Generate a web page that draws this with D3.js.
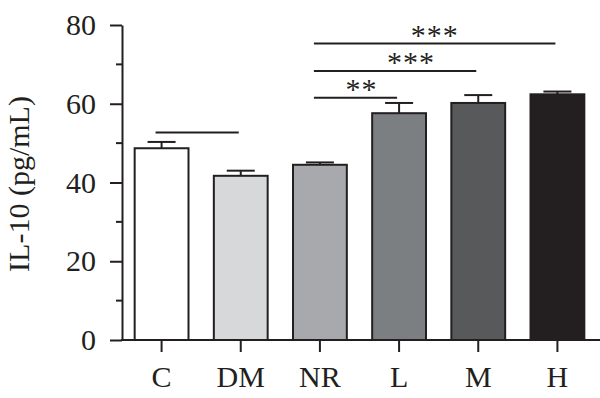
<!DOCTYPE html>
<html>
<head>
<meta charset="utf-8">
<script src="https://cdn.jsdelivr.net/npm/d3@7"></script>
<style>
  html, body { margin: 0; padding: 0; background: #fff; }
  svg { display: block; }
  text { font-family: "Liberation Serif", "Times New Roman", serif; fill: #231f20; }
</style>
</head>
<body>
<div id="chart"></div>
<script>
// data
const groups = ["C", "DM", "NR", "L", "M", "H"];
const means = [48.7, 41.7, 44.5, 57.6, 60.2, 62.4];
const errors = [1.6, 1.3, 0.6, 2.6, 2.0, 0.7];
const fills = ["#ffffff", "#d7d8da", "#a7a9ac", "#7b7f82", "#58595b", "#231f20"];
const yTicks = [0, 20, 40, 60, 80];
const yMinorTicks = [10, 30, 50, 70];
// significance brackets
const sigFrom = ["C", "NR", "NR", "NR"];
const sigTo = ["DM", "L", "M", "H"];
const sigLabel = ["", "**", "***", "***"];
const sigLevel = [52.7, 61.5, 68.3, 75.3];

const width = 600, height = 398;
const ink = "#231f20";

const svg = d3.select("#chart").append("svg")
  .attr("width", width)
  .attr("height", height);

const x = d3.scaleBand()
  .domain(groups)
  .range([122, 597])
  .paddingInner(0.32)
  .paddingOuter(0.16);

const y = d3.scaleLinear()
  .domain([0, 80])
  .range([340, 25]);

const data = groups.map((g, i) => ({ g, v: means[i], e: errors[i], fill: fills[i] }));

// bars
svg.append("g")
  .selectAll("rect")
  .data(data)
  .join("rect")
  .attr("x", d => x(d.g))
  .attr("y", d => y(d.v))
  .attr("width", x.bandwidth())
  .attr("height", d => y(0) - y(d.v))
  .attr("fill", d => d.fill)
  .attr("stroke", ink)
  .attr("stroke-width", 2);

// error bars (upper only)
const err = svg.append("g").attr("stroke", ink).attr("stroke-width", 2);
const cx = g => x(g) + x.bandwidth() / 2;
const capW = 14;
err.selectAll("line.stem")
  .data(data)
  .join("line")
  .attr("class", "stem")
  .attr("x1", d => cx(d.g)).attr("x2", d => cx(d.g))
  .attr("y1", d => y(d.v)).attr("y2", d => y(d.v + d.e));
err.selectAll("line.cap")
  .data(data)
  .join("line")
  .attr("class", "cap")
  .attr("x1", d => cx(d.g) - capW).attr("x2", d => cx(d.g) + capW)
  .attr("y1", d => y(d.v + d.e)).attr("y2", d => y(d.v + d.e));

// y axis
const yAxis = svg.append("g")
  .attr("transform", "translate(122,0)")
  .call(d3.axisLeft(y).tickValues(yTicks).tickSize(12).tickPadding(14).tickSizeOuter(0));
yAxis.select(".domain").attr("stroke", ink).attr("stroke-width", 2);
yAxis.selectAll(".tick line").attr("stroke", ink).attr("stroke-width", 2);
yAxis.selectAll(".tick text")
  .attr("font-size", 30)
  .attr("fill", ink);

svg.append("g")
  .attr("transform", "translate(122,0)")
  .selectAll("line")
  .data(yMinorTicks)
  .join("line")
  .attr("x1", -6).attr("x2", 0)
  .attr("y1", d => y(d)).attr("y2", d => y(d))
  .attr("stroke", ink).attr("stroke-width", 2);

// x axis, baseline runs to the right edge
const xAxis = svg.append("g")
  .attr("transform", `translate(0,${y(0)})`)
  .call(d3.axisBottom(x).tickSize(12).tickPadding(14).tickSizeOuter(0));
xAxis.select(".domain")
  .attr("d", `M121,0H${width}`)
  .attr("stroke", ink).attr("stroke-width", 2);
xAxis.selectAll(".tick line").attr("stroke", ink).attr("stroke-width", 2);
xAxis.selectAll(".tick text")
  .attr("font-size", 30)
  .attr("fill", ink);

// y axis title
svg.append("text")
  .attr("transform", `translate(29,184) rotate(-90)`)
  .attr("text-anchor", "middle")
  .attr("font-size", 30)
  .text("IL-10 (pg/mL)");

// significance brackets
const sig = sigFrom.map((f, i) => ({ f, t: sigTo[i], label: sigLabel[i], level: sigLevel[i] }));
const labelNudge = [0, 2, 12, -4]; // stars are not exactly centred in the original
const sg = svg.append("g");
sg.selectAll("line")
  .data(sig)
  .join("line")
  .attr("x1", d => cx(d.f) - 6)
  .attr("x2", d => cx(d.t) - 2)
  .attr("y1", d => y(d.level)).attr("y2", d => y(d.level))
  .attr("stroke", ink).attr("stroke-width", 2);
sg.selectAll("text")
  .data(sig)
  .join("text")
  .attr("x", (d, i) => (cx(d.f) + cx(d.t)) / 2 + labelNudge[i])
  .attr("y", d => y(d.level) + 1)
  .attr("text-anchor", "middle")
  .attr("font-size", 30)
  .attr("letter-spacing", 1)
  .text(d => d.label);
</script>
</body>
</html>
